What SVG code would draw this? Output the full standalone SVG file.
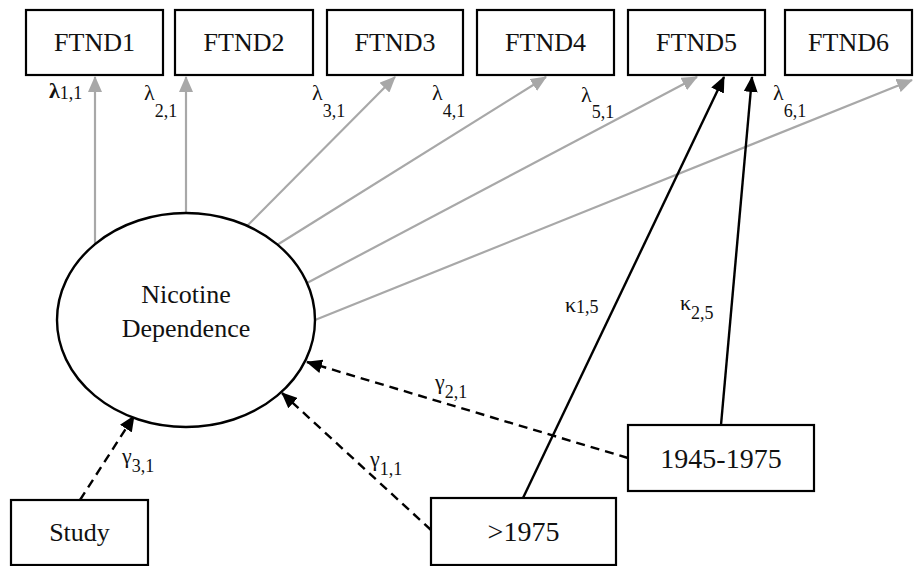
<svg xmlns="http://www.w3.org/2000/svg" width="914" height="566" viewBox="0 0 914 566">
<style>
text{font-family:'Liberation Serif','Times New Roman',Times,'DejaVu Serif',serif}
.box{fill:#fff;stroke:#000;stroke-width:2.2}
.t{fill:#111;text-anchor:middle}
.g{fill:#111;font-size:22px}
.s{font-size:18px}
.grey{stroke:#a8a8a8;stroke-width:2.2;fill:none;marker-end:url(#ag)}
.blk{stroke:#000;stroke-width:2.4;fill:none;marker-end:url(#ab)}
.dash{stroke:#000;stroke-width:2.4;fill:none;stroke-dasharray:9 6;marker-end:url(#ab)}
</style>
<defs>
<marker id="ag" markerUnits="userSpaceOnUse" markerWidth="16" markerHeight="14" refX="15" refY="7" orient="auto">
<path d="M0,0 L16,7 L0,14 Z" fill="#a8a8a8"/>
</marker>
<marker id="ab" markerUnits="userSpaceOnUse" markerWidth="16" markerHeight="14" refX="15" refY="7" orient="auto">
<path d="M0,0 L16,7 L0,14 Z" fill="#000"/>
</marker>
</defs>
<rect width="914" height="566" fill="#fff"/>
<g id="connectors">
<line class="grey" x1="95" y1="245" x2="95" y2="77"/>
<line class="grey" x1="186" y1="213" x2="186" y2="77"/>
<line class="grey" x1="247" y1="226" x2="395" y2="77"/>
<line class="grey" x1="277" y1="245" x2="546" y2="77"/>
<line class="grey" x1="307" y1="283" x2="697" y2="77"/>
<line class="grey" x1="315" y1="320" x2="912" y2="80"/>
<line class="blk" x1="523" y1="498" x2="724" y2="77"/>
<line class="blk" x1="721" y1="425" x2="752" y2="77"/>
<line class="dash" x1="80" y1="500" x2="134" y2="416"/>
<line class="dash" x1="431" y1="530" x2="282" y2="393"/>
<line class="dash" x1="628" y1="458" x2="307" y2="362"/>
</g>
<g id="labels">
<text class="g" x="49" y="98" font-weight="bold">λ<tspan class="s" font-weight="normal" dy="1">1,1</tspan></text>
<text class="g" x="144" y="100">λ<tspan class="s" dy="17">2,1</tspan></text>
<text class="g" x="312" y="100">λ<tspan class="s" dy="17">3,1</tspan></text>
<text class="g" x="432" y="100">λ<tspan class="s" dy="17">4,1</tspan></text>
<text class="g" x="581" y="102">λ<tspan class="s" dy="16">5,1</tspan></text>
<text class="g" x="773" y="100">λ<tspan class="s" dy="17">6,1</tspan></text>
<text class="g" x="565" y="312">κ<tspan class="s" dy="1">1,5</tspan></text>
<text class="g" x="680" y="310">κ<tspan class="s" dy="9">2,5</tspan></text>
<text class="g" x="435" y="389">γ<tspan class="s" dy="9">2,1</tspan></text>
<text class="g" x="370" y="466">γ<tspan class="s" dy="9">1,1</tspan></text>
<text class="g" x="122" y="463">γ<tspan class="s" dy="9">3,1</tspan></text>
</g>
<g id="ftnd1"><rect class="box" x="26" y="10" width="137" height="65"/><text class="t" x="94.5" y="51" font-size="26">FTND1</text></g>
<g id="ftnd2"><rect class="box" x="175" y="10" width="138" height="65"/><text class="t" x="244" y="51" font-size="26">FTND2</text></g>
<g id="ftnd3"><rect class="box" x="327" y="10" width="136" height="65"/><text class="t" x="395" y="51" font-size="26">FTND3</text></g>
<g id="ftnd4"><rect class="box" x="477" y="10" width="137" height="65"/><text class="t" x="545.5" y="51" font-size="26">FTND4</text></g>
<g id="ftnd5"><rect class="box" x="628" y="10" width="137" height="65"/><text class="t" x="696.5" y="51" font-size="26">FTND5</text></g>
<g id="ftnd6"><rect class="box" x="785" y="10" width="127" height="65"/><text class="t" x="848.5" y="51" font-size="26">FTND6</text></g>
<g id="nicotine"><ellipse cx="186" cy="320" rx="129" ry="107" fill="#fff" stroke="#000" stroke-width="2.4"/><text class="t" x="186" y="303" font-size="26">Nicotine</text><text class="t" x="186" y="337" font-size="26">Dependence</text></g>
<g id="study"><rect class="box" x="11" y="500" width="137" height="65"/><text class="t" x="79.5" y="541" font-size="26">Study</text></g>
<g id="after1975"><rect class="box" x="431" y="498" width="185" height="67"/><text class="t" x="523.5" y="541" font-size="28">&gt;1975</text></g>
<g id="y1945"><rect class="box" x="628" y="425" width="186" height="66"/><text class="t" x="721" y="468" font-size="28">1945-1975</text></g>
</svg>
